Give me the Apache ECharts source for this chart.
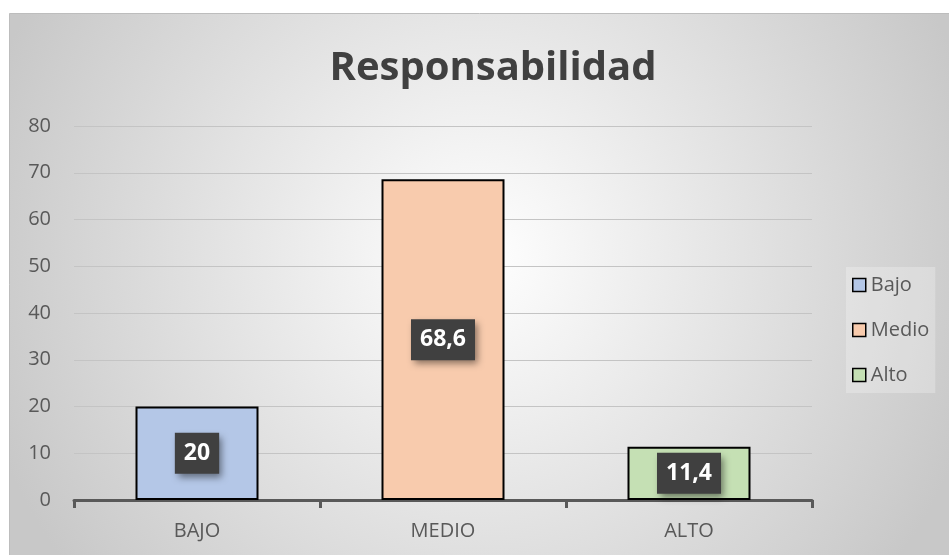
<!DOCTYPE html>
<html>
<head>
<meta charset="utf-8">
<script src="https://cdn.jsdelivr.net/npm/echarts@6/dist/echarts.min.js"></script>
<style>
html,body{margin:0;padding:0;background:#ffffff;}
#chart{width:949px;height:555px;}
</style>
</head>
<body>
<div id="chart"></div>
<script>
var categories = ['BAJO', 'MEDIO', 'ALTO'];
var seriesNames = ['Bajo', 'Medio', 'Alto'];
var values = [20, 68.6, 11.4];
var colors = ['#b4c7e7', '#f8cbad', '#c5e0b4'];
var yTicks = [0, 80, 10];

var chart = echarts.init(document.getElementById('chart'));

var series = seriesNames.map(function (name, i) {
  var data = categories.map(function (c, j) { return j === i ? values[i] : '-'; });
  return {
    name: name,
    type: 'bar',
    stack: 'all',
    barWidth: '50%',
    data: data,
    itemStyle: { color: colors[i], borderColor: '#000000', borderWidth: 2 },
    label: {
      show: true,
      position: 'inside',
      formatter: function (p) { return String(p.value).replace('.', ','); },
      color: '#ffffff',
      fontFamily: 'Open Sans',
      fontWeight: 'bold',
      fontSize: 23,
      lineHeight: 25,
      backgroundColor: '#404040',
      padding: [8, 9],
      shadowColor: 'rgba(0,0,0,0.45)',
      shadowBlur: 7,
      shadowOffsetX: 3,
      shadowOffsetY: 4
    }
  };
});

var option = {
  animation: false,
  graphic: [{
    type: 'rect',
    z: -100,
    silent: true,
    shape: { x: 9.5, y: 13.5, width: 940, height: 542 },
    style: {
      fill: {
        type: 'radial', x: 0.5, y: 0.45, r: 0.95,
        colorStops: [{ offset: 0, color: '#ffffff' }, { offset: 1, color: '#c8c8c8' }]
      },
      stroke: '#bdbdbd',
      lineWidth: 1
    }
  }],
  title: {
    text: 'Responsabilidad',
    left: 488,
    textAlign: 'center',
    top: 44,
    textStyle: { fontFamily: 'Open Sans', fontWeight: 'bold', fontSize: 40, color: '#404040' }
  },
  legend: {
    orient: 'vertical',
    left: 846,
    top: 267,
    padding: [8, 6],
    itemGap: 25,
    itemWidth: 13,
    itemHeight: 13,
    icon: 'rect',
    backgroundColor: 'rgba(255,255,255,0.25)',
    textStyle: { fontFamily: 'Open Sans', fontSize: 20, color: '#595959' },
    data: seriesNames.map(function (n, i) {
      return { name: n, itemStyle: { color: colors[i], borderColor: '#000000', borderWidth: 1.5 } };
    })
  },
  grid: { left: 74, right: 137, top: 126, bottom: 55 },
  xAxis: {
    type: 'category',
    data: categories,
    axisLine: { lineStyle: { color: '#595959', width: 3 } },
    axisTick: { show: true, length: 8, lineStyle: { color: '#595959', width: 3 } },
    axisLabel: { color: '#595959', fontFamily: 'Open Sans', fontSize: 20, margin: 21 }
  },
  yAxis: {
    type: 'value',
    min: yTicks[0],
    max: yTicks[1],
    interval: yTicks[2],
    axisLine: { show: false },
    axisTick: { show: false },
    splitLine: { lineStyle: { color: '#c4c4c4', width: 1 } },
    axisLabel: { color: '#595959', fontFamily: 'Open Sans', fontSize: 20, margin: 23 }
  },
  series: series
};
chart.setOption(option);
</script>
</body>
</html>
